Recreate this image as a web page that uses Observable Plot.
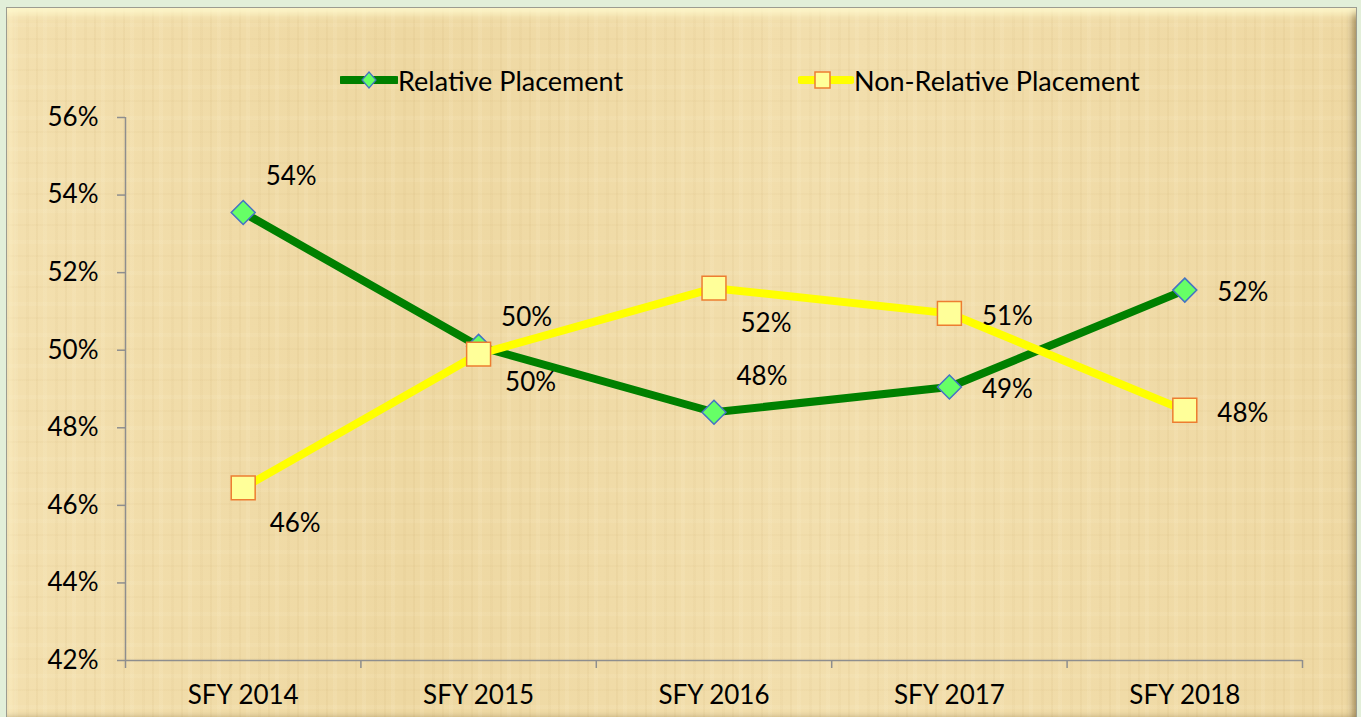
<!DOCTYPE html>
<html><head><meta charset="utf-8">
<script src="https://cdn.jsdelivr.net/npm/d3@7"></script>
<script src="https://cdn.jsdelivr.net/npm/@observablehq/plot@0.6"></script>
<style>
html,body{margin:0;padding:0;background:#e2efd9;width:1361px;height:717px;overflow:hidden;font-family:Lato,"Open Sans",sans-serif;}
#frame{position:absolute;left:6px;top:7px;width:1351px;height:716px;box-sizing:border-box;border:1px solid #9c9c90;
 background-color:#efdaa6;
 background-image:
  repeating-linear-gradient(90deg, rgba(170,130,60,0.06) 0 2px, transparent 2px 7px, rgba(255,245,215,0.12) 7px 11px, transparent 11px 19px, rgba(170,130,60,0.04) 19px 22px, transparent 22px 29px),
  repeating-linear-gradient(0deg, rgba(170,130,60,0.04) 0 2px, transparent 2px 13px, rgba(255,245,215,0.10) 13px 17px, transparent 17px 31px),
  linear-gradient(90deg, rgba(255,240,200,0.25), rgba(230,200,130,0.12) 30%, rgba(255,240,200,0.2) 60%, rgba(235,205,140,0.12));
 box-shadow: inset 0 14px 8px -8px rgba(255,250,205,0.95), inset -8px 0 7px -4px rgba(90,70,30,0.45), inset 0 -8px 7px -4px rgba(90,70,30,0.45), inset 8px 0 7px -4px rgba(255,245,205,0.7);}
#chart{position:absolute;left:0;top:0}
.leg{position:absolute;display:flex;align-items:center;font-size:27px;color:#000;white-space:nowrap}
</style></head>
<body>
<div id="frame"></div>
<div id="chart"></div>
<div class="leg" id="leg1" style="left:340px;top:63px;"></div>
<div class="leg" id="leg2" style="left:798px;top:63px;"></div>
<script>
const years = ["SFY 2014", "SFY 2015", "SFY 2016", "SFY 2017", "SFY 2018"];
const relative = [53.55, 50.1, 48.4, 49.05, 51.55];
const nonRelative = [46.45, 49.9, 51.6, 50.95, 48.45];
const relPlace = ["above", "below", "above", "right", "right"];
const nonPlace = ["below", "above", "below", "right", "right"];
const yTicks = [42, 44, 46, 48, 50, 52, 54, 56];
const seriesNames = ["Relative Placement", "Non-Relative Placement"];

const relRows = years.map((y, i) => ({i: i + 1, year: y, v: relative[i], place: relPlace[i]}));
const nonRows = years.map((y, i) => ({i: i + 1, year: y, v: nonRelative[i], place: nonPlace[i]}));
const allRows = relRows.concat(nonRows);

const offsets = {above: [48, -36], below: [52, 36], right: [58, 3]};
const labelMarks = Object.entries(offsets).map(([k, [dx, dy]]) =>
  Plot.text(allRows, {filter: d => d.place === k, x: "i", y: "v", text: d => Math.round(d.v) + "%", dx, dy, fontSize: 26, fill: "#000"}));

const axisColor = "#8e8e8e";
const chart = Plot.plot({
  width: 1361, height: 717,
  marginLeft: 125, marginRight: 59, marginTop: 117, marginBottom: 57,
  style: {background: "transparent", fontFamily: "Lato, 'Open Sans', sans-serif", fontSize: "26px", color: "#000"},
  x: {type: "linear", domain: [0.5, 5.5]},
  y: {domain: [42, 56]},
  marks: [
    Plot.ruleY([42], {stroke: axisColor, strokeWidth: 1.5}),
    Plot.ruleX([0.5], {stroke: axisColor, strokeWidth: 1.5}),
    Plot.axisX(d3.range(0.5, 5.6, 1), {tickSize: 8, tickFormat: () => "", stroke: axisColor, strokeWidth: 1.5, label: null}),
    Plot.axisX([1, 2, 3, 4, 5], {tickSize: 0, tickPadding: 25, tickFormat: d => years[d - 1], fontSize: 26, fill: "#000", label: null}),
    Plot.axisY(yTicks, {tickSize: 8, tickPadding: 19, tickFormat: d => d + "%", stroke: axisColor, strokeWidth: 1.5, fontSize: 26, fill: "#000", label: null}),
    Plot.line(relRows, {x: "i", y: "v", stroke: "#008000", strokeWidth: 8, strokeLinejoin: "round"}),
    Plot.dot(relRows, {x: "i", y: "v", symbol: "diamond2", r: 10.8, fill: "#66ff66", stroke: "#4472c4", strokeWidth: 1.5}),
    Plot.line(nonRows, {x: "i", y: "v", stroke: "#ffff00", strokeWidth: 8, strokeLinejoin: "round"}),
    Plot.dot(nonRows, {x: "i", y: "v", symbol: "square", r: 13.5, fill: "#ffff99", stroke: "#ed7d31", strokeWidth: 1.5}),
    ...labelMarks
  ]
});
document.getElementById("chart").append(chart);

document.getElementById("leg1").innerHTML =
  `<svg width="58" height="34"><line x1="2" y1="17" x2="56" y2="17" stroke="#008000" stroke-width="8" stroke-linecap="round"/><path d="M29 9 L36 17 L29 25 L22 17 Z" fill="#66ff66" stroke="#4472c4" stroke-width="1.2"/></svg><span>${seriesNames[0]}</span>`;
document.getElementById("leg2").innerHTML =
  `<svg width="56" height="34"><line x1="3" y1="17" x2="53" y2="17" stroke="#ffff00" stroke-width="8" stroke-linecap="round"/><rect x="17" y="9" width="15" height="16" fill="#ffff99" stroke="#ed7d31" stroke-width="1.5"/></svg><span>${seriesNames[1]}</span>`;
</script>
</body></html>
